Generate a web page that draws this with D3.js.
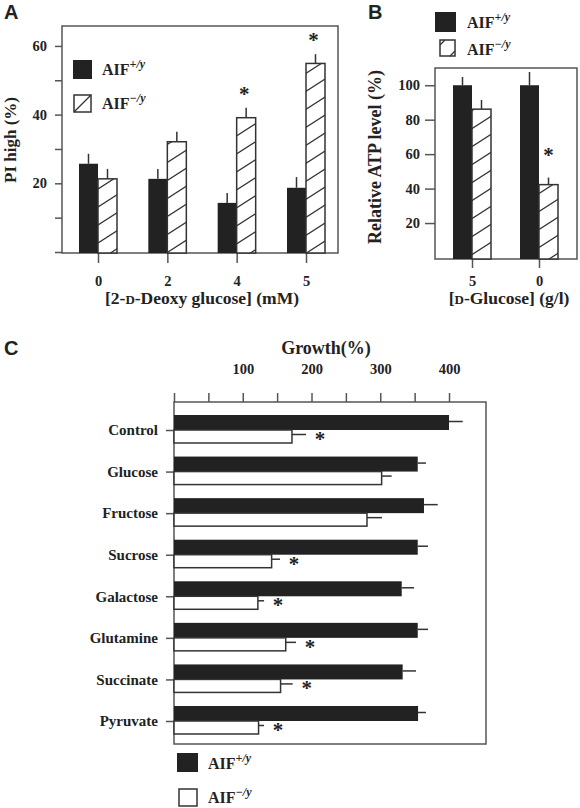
<!DOCTYPE html>
<html><head><meta charset="utf-8">
<script src="https://cdn.jsdelivr.net/npm/d3@7"></script>
<style>
body{margin:0;background:#fff;}
svg{display:block;}
text{font-family:"Liberation Serif","Times New Roman",serif;font-weight:bold;fill:#222;}
.panel{font-family:"Liberation Sans",Arial,sans-serif;font-size:20px;font-weight:bold;}
</style></head>
<body>
<script>
// ---------- Panel A data ----------
const catsA = ["0", "2", "4", "5"];
const wtA = [25.7, 21.3, 14.3, 18.7];
const wtAErr = [2.9, 2.9, 2.9, 3.1];
const koA = [21.3, 32.1, 39.1, 54.9];
const koAErr = [2.9, 2.9, 2.9, 2.7];
const sigA = [false, false, true, true];
const yTicksA = [0, 10, 20, 30, 40, 50, 60];
const yLabelsA = [20, 40, 60];

// ---------- Panel B data ----------
const catsB = ["5", "0"];
const wtB = [100, 100];
const wtBErr = [4.8, 7.7];
const koB = [86.1, 42.3];
const koBErr = [5.3, 4.1];
const sigB = [false, true];
const yTicksB = [20, 40, 60, 80, 100];

// ---------- Panel C data ----------
const catsC = ["Control", "Glucose", "Fructose", "Sucrose", "Galactose", "Glutamine", "Succinate", "Pyruvate"];
const wtC = [400, 354.5, 363.6, 354.5, 331.2, 354.5, 332.6, 355];
const wtCErr = [20, 12, 20, 15, 18, 15, 19.4, 11.5];
const koC = [171.6, 302, 280.7, 142, 122, 162.5, 155, 123];
const koCErr = [20.4, 14.6, 21.8, 12.2, 9, 15, 17.6, 8];
const sigC = [true, false, false, true, true, true, true, true];
const xTicksC = [0, 50, 100, 150, 200, 250, 300, 350, 400];
const xLabelsC = [100, 200, 300, 400];

const W = 580, H = 808;
const svg = d3.select("body").append("svg").attr("width", W).attr("height", H);
const ink = "#222", line = "#333", frame = "#555";

// hatch pattern
const defs = svg.append("defs");
const pat = defs.append("pattern").attr("id", "hatch").attr("patternUnits", "userSpaceOnUse")
  .attr("width", 28).attr("height", 18);
pat.append("rect").attr("width", 28).attr("height", 18).attr("fill", "#fff");
pat.append("path").attr("d", "M0,18 L28,0 M-7,4.5 L7,-4.5 M21,22.5 L35,13.5")
  .attr("stroke", line).attr("stroke-width", 1.3).attr("fill", "none");

function styleAxis(g, fs) {
  g.select(".domain").remove();
  g.selectAll(".tick line").attr("stroke", frame).attr("stroke-width", 1.5);
  g.selectAll(".tick text").attr("fill", ink).attr("font-size", fs)
    .attr("font-family", "Liberation Serif, serif").attr("font-weight", "bold");
}

function legendText(x, y, sup) {
  const t = svg.append("text").attr("x", x).attr("y", y).attr("font-size", 16);
  t.append("tspan").text("AIF");
  t.append("tspan").attr("dy", -7).attr("font-size", 12).attr("font-style", "italic").text(sup);
}

// ================= Panel A =================
{
  const L = 62, R = 338, T = 26, B = 253;
  const x = d3.scalePoint().domain(catsA).range([98, 306]);
  const y = d3.scaleLinear().domain([0, 65.8]).range([252, T]);
  const bw = 19;

  svg.append("text").attr("class", "panel").attr("x", 4).attr("y", 19).text("A");
  svg.append("rect").attr("x", L).attr("y", T).attr("width", R - L).attr("height", B - T)
    .attr("fill", "none").attr("stroke", frame).attr("stroke-width", 1.5);

  const ya = svg.append("g").attr("transform", `translate(${L},0)`)
    .call(d3.axisLeft(y).tickValues(yTicksA).tickSize(7).tickPadding(8)
      .tickFormat(d => yLabelsA.includes(d) ? d : ""));
  styleAxis(ya, 14.5);
  const xa = svg.append("g").attr("transform", `translate(0,${B})`)
    .call(d3.axisBottom(x).tickSize(10).tickPadding(13));
  styleAxis(xa, 14.5);

  const g = svg.append("g");
  catsA.forEach((c, i) => {
    const cx = x(c);
    g.append("line").attr("x1", cx - bw / 2).attr("x2", cx - bw / 2)
      .attr("y1", y(wtA[i])).attr("y2", y(wtA[i] + wtAErr[i])).attr("stroke", line).attr("stroke-width", 1.5);
    g.append("line").attr("x1", cx + bw / 2).attr("x2", cx + bw / 2)
      .attr("y1", y(koA[i])).attr("y2", y(koA[i] + koAErr[i])).attr("stroke", line).attr("stroke-width", 1.5);
    g.append("rect").attr("x", cx - bw).attr("y", y(wtA[i])).attr("width", bw)
      .attr("height", B - y(wtA[i])).attr("fill", ink);
    g.append("rect").attr("x", cx).attr("y", y(koA[i])).attr("width", bw)
      .attr("height", B - y(koA[i])).attr("fill", "url(#hatch)").attr("stroke", line).attr("stroke-width", 1.5);
    if (sigA[i]) {
      g.append("text").attr("x", cx + bw / 2 - 2).attr("y", y(koA[i] + koAErr[i]) - 7)
        .attr("text-anchor", "middle").attr("font-size", 21).attr("fill", "#555").text("*");
    }
  });

  // legend
  svg.append("rect").attr("x", 73).attr("y", 60).attr("width", 19).attr("height", 19).attr("fill", ink);
  svg.append("rect").attr("x", 74).attr("y", 95).attr("width", 17).attr("height", 17)
    .attr("fill", "#fff").attr("stroke", line).attr("stroke-width", 1.5);
  svg.append("line").attr("x1", 74).attr("y1", 112).attr("x2", 91).attr("y2", 95)
    .attr("stroke", line).attr("stroke-width", 1.3);
  legendText(102, 75, "+/y");
  legendText(102, 109, "\u2212/y");

  // axis titles
  svg.append("text").attr("transform", "translate(16,140) rotate(-90)").attr("text-anchor", "middle")
    .attr("font-size", 17).text("PI high (%)");
  const xt = svg.append("text").attr("x", 202).attr("y", 304).attr("text-anchor", "middle").attr("font-size", 17.5);
  xt.append("tspan").text("[2-");
  xt.append("tspan").attr("font-size", 13).text("D");
  xt.append("tspan").text("-Deoxy glucose] (mM)");
}

// ================= Panel B =================
{
  const L = 435, R = 577, T = 68, B = 259;
  const x = d3.scalePoint().domain(catsB).range([472, 539]);
  const y = d3.scaleLinear().domain([0, 110]).range([257.5, T]);
  const bw = 19;

  svg.append("text").attr("class", "panel").attr("x", 368).attr("y", 19).text("B");
  svg.append("rect").attr("x", L).attr("y", T).attr("width", R - L).attr("height", B - T)
    .attr("fill", "none").attr("stroke", frame).attr("stroke-width", 1.5);

  const ya = svg.append("g").attr("transform", `translate(${L},0)`)
    .call(d3.axisLeft(y).tickValues(yTicksB).tickSize(10).tickPadding(5));
  styleAxis(ya, 14.5);
  const xa = svg.append("g").attr("transform", `translate(0,${B})`)
    .call(d3.axisBottom(x).tickSize(9).tickPadding(8));
  styleAxis(xa, 14.5);

  const g = svg.append("g");
  catsB.forEach((c, i) => {
    const cx = x(c);
    g.append("line").attr("x1", cx - bw / 2).attr("x2", cx - bw / 2)
      .attr("y1", y(wtB[i])).attr("y2", y(wtB[i] + wtBErr[i])).attr("stroke", line).attr("stroke-width", 1.5);
    g.append("line").attr("x1", cx + bw / 2).attr("x2", cx + bw / 2)
      .attr("y1", y(koB[i])).attr("y2", y(koB[i] + koBErr[i])).attr("stroke", line).attr("stroke-width", 1.5);
    g.append("rect").attr("x", cx - bw).attr("y", y(wtB[i])).attr("width", bw)
      .attr("height", B - y(wtB[i])).attr("fill", ink);
    g.append("rect").attr("x", cx).attr("y", y(koB[i])).attr("width", bw)
      .attr("height", B - y(koB[i])).attr("fill", "url(#hatch)").attr("stroke", line).attr("stroke-width", 1.5);
    if (sigB[i]) {
      g.append("text").attr("x", cx + bw / 2).attr("y", y(koB[i] + koBErr[i]) - 16)
        .attr("text-anchor", "middle").attr("font-size", 21).attr("fill", "#555").text("*");
    }
  });

  // legend
  svg.append("rect").attr("x", 435).attr("y", 12).attr("width", 21).attr("height", 20).attr("fill", ink);
  svg.append("rect").attr("x", 440).attr("y", 40).attr("width", 15).attr("height", 16)
    .attr("fill", "#fff").attr("stroke", line).attr("stroke-width", 1.5);
  svg.append("path").attr("d", "M440,45 L445,40 M450,56 L455,51")
    .attr("stroke", line).attr("stroke-width", 1.3);
  legendText(467, 28, "+/y");
  legendText(467, 55, "\u2212/y");

  svg.append("text").attr("transform", "translate(381,157) rotate(-90)").attr("text-anchor", "middle")
    .attr("font-size", 18).text("Relative ATP level (%)");
  const xt = svg.append("text").attr("x", 509).attr("y", 304).attr("text-anchor", "middle").attr("font-size", 17.5);
  xt.append("tspan").text("[");
  xt.append("tspan").attr("font-size", 13).text("D");
  xt.append("tspan").text("-Glucose] (g/l)");
}

// ================= Panel C =================
{
  const L = 174, R = 486, T = 402, B = 744;
  const x = d3.scaleLinear().domain([0, 453.8]).range([L, R]);
  const y = d3.scalePoint().domain(catsC).range([430, 721]);
  const hb = 15, hw = 13;

  svg.append("text").attr("class", "panel").attr("x", 4).attr("y", 355).text("C");
  svg.append("rect").attr("x", L).attr("y", T).attr("width", R - L).attr("height", B - T)
    .attr("fill", "none").attr("stroke", frame).attr("stroke-width", 1.5);

  const xa = svg.append("g").attr("transform", `translate(0,${T})`)
    .call(d3.axisTop(x).tickValues(xTicksC).tickSize(9).tickPadding(19)
      .tickFormat(d => xLabelsC.includes(d) ? d : ""));
  styleAxis(xa, 14.5);
  const ya = svg.append("g").attr("transform", `translate(${L},0)`)
    .call(d3.axisLeft(y).tickSize(8).tickPadding(8));
  styleAxis(ya, 15);

  svg.append("text").attr("x", 326).attr("y", 354).attr("text-anchor", "middle")
    .attr("font-size", 18).text("Growth(%)");

  const g = svg.append("g");
  catsC.forEach((c, i) => {
    const cy = y(c);
    g.append("line").attr("x1", x(wtC[i])).attr("x2", x(wtC[i] + wtCErr[i]))
      .attr("y1", cy - hb / 2 - 1).attr("y2", cy - hb / 2 - 1).attr("stroke", line).attr("stroke-width", 1.5);
    g.append("line").attr("x1", x(koC[i])).attr("x2", x(koC[i] + koCErr[i]))
      .attr("y1", cy + hw / 2 - 2).attr("y2", cy + hw / 2 - 2).attr("stroke", line).attr("stroke-width", 1.5);
    g.append("rect").attr("x", L).attr("y", cy - hb).attr("width", x(wtC[i]) - L)
      .attr("height", hb).attr("fill", ink);
    g.append("rect").attr("x", L).attr("y", cy).attr("width", x(koC[i]) - L)
      .attr("height", hw).attr("fill", "#fff").attr("stroke", line).attr("stroke-width", 1.5);
    if (sigC[i]) {
      g.append("text").attr("x", x(koC[i] + koCErr[i]) + 14).attr("y", cy + 16)
        .attr("text-anchor", "middle").attr("font-size", 21).attr("fill", "#555").text("*");
    }
  });

  // legend
  svg.append("rect").attr("x", 177).attr("y", 753).attr("width", 21).attr("height", 19).attr("fill", ink);
  svg.append("rect").attr("x", 179).attr("y", 789).attr("width", 18).attr("height", 17)
    .attr("fill", "#fff").attr("stroke", line).attr("stroke-width", 1.5);
  legendText(208, 769, "+/y");
  legendText(208, 803, "\u2212/y");
}
</script>
</body></html>
